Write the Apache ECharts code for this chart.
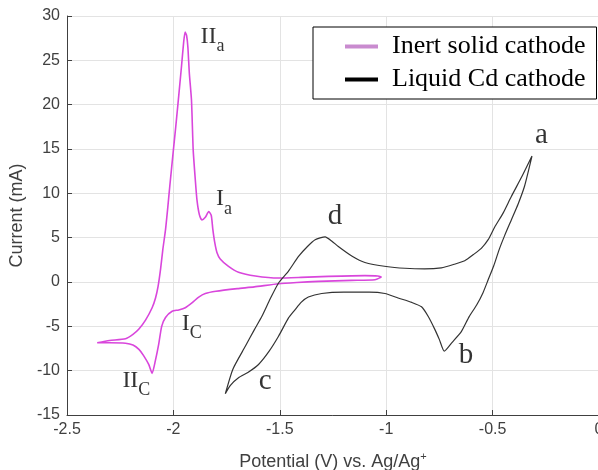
<!DOCTYPE html>
<html>
<head>
<meta charset="utf-8">
<script src="https://cdn.jsdelivr.net/npm/echarts@6/dist/echarts.min.js"></script>
<style>
  html, body { margin: 0; padding: 0; background: #fff; }
  #chart { width: 598px; height: 470px; }
</style>
</head>
<body>
<div id="chart"></div>
<script>
// inert solid cathode, one full cycle starting at the switching tip near -1 V
const inertPotential = [-1.022, -1.053, -1.163, -1.319, -1.42, -1.506, -1.62, -1.70, -1.80, -1.85, -1.881, -1.91, -1.944, -1.975, -2.006, -2.037, -2.055, -2.069, -2.085, -2.10, -2.116, -2.14, -2.162, -2.19, -2.225, -2.30, -2.358,
  -2.30, -2.225, -2.19, -2.162, -2.131, -2.10, -2.084, -2.072, -2.06, -2.05, -2.037, -2.026, -2.017, -2.0, -1.989, -1.975, -1.962, -1.952, -1.945, -1.938, -1.932, -1.925, -1.915, -1.907, -1.897, -1.889, -1.878, -1.866, -1.85, -1.834, -1.822, -1.815, -1.806, -1.795, -1.78, -1.741, -1.694, -1.615, -1.506, -1.40, -1.272, -1.10, -1.04, -1.022]
const inertCurrent = [0.55, 0.26, 0.18, 0.07, -0.05, -0.19, -0.55, -0.75, -1.05, -1.3, -1.7, -2.3, -2.9, -3.15, -3.3, -4.0, -5.0, -7.0, -8.9, -10.3, -9.3, -8.3, -7.6, -7.1, -6.9, -6.85, -6.85,
  -6.6, -6.4, -5.9, -5.3, -4.3, -2.9, -1.8, -0.5, 1.5, 3.6, 5.9, 8.5, 10.8, 14.9, 17.5, 21.0, 24.3, 27.0, 28.2, 27.8, 26.5, 23.5, 20.5, 14.9, 11.5, 9.2, 7.6, 7.0, 7.3, 7.95, 7.5, 6.0, 4.5, 3.3, 2.6, 1.76, 1.1, 0.68, 0.45, 0.52, 0.63, 0.72, 0.68, 0.55]

// liquid Cd cathode, starting at point a
const cdPotential = [-0.315, -0.35, -0.38, -0.412, -0.444, -0.47, -0.495, -0.52, -0.545, -0.575, -0.61, -0.647, -0.69, -0.727, -0.75, -0.771, -0.803, -0.834, -0.88, -0.944, -1.006, -1.08, -1.2, -1.303, -1.366, -1.40, -1.428, -1.459, -1.506, -1.55, -1.6, -1.65, -1.694, -1.73, -1.756,
  -1.72, -1.662, -1.62, -1.584, -1.545, -1.506, -1.46, -1.412, -1.37, -1.334, -1.287, -1.255, -1.225, -1.16, -1.1, -1.0, -0.912, -0.82, -0.741, -0.68, -0.631, -0.59, -0.553, -0.52, -0.49, -0.45, -0.412, -0.36, -0.315]
const cdCurrent = [14.2, 10.8, 8.8, 7.0, 5.2, 3.6, 1.8, 0.3, -1.2, -2.6, -3.9, -5.6, -6.8, -7.8, -6.5, -5.37, -3.87, -2.8, -2.3, -1.8, -1.3, -1.15, -1.15, -1.3, -1.7, -2.3, -3.12, -4.05, -6.12, -7.8, -9.3, -10.2, -10.8, -11.6, -12.6,
  -9.8, -7.25, -5.4, -3.87, -1.9, -0.11, 1.2, 2.88, 4.0, 4.76, 5.1, 4.6, 4.0, 2.9, 2.2, 1.75, 1.55, 1.48, 1.6, 2.0, 2.4, 3.1, 3.8, 4.8, 6.2, 7.8, 9.64, 12.0, 14.2]

// peak annotations
const noteMain = ['II', 'I', 'I', 'II', 'a', 'b', 'c', 'd']
const noteSub = ['a', 'a', 'C', 'C', '', '', '', '']
const notePotential = [-1.816, -1.762, -1.914, -2.174, -0.271, -0.625, -1.569, -1.241]
const noteCurrent = [27.7, 9.36, -4.7, -11.1, 16.5, -8.3, -11.2, 7.35]

const seriesNames = ['Inert solid cathode', 'Liquid Cd cathode']

const zip = (xs, ys) => xs.map((x, i) => [x, ys[i]])

const notes = noteMain.map((m, i) => ({
  value: [notePotential[i], noteCurrent[i]],
  label: {
    formatter: noteSub[i] ? '{m|' + m + '}{s|' + noteSub[i] + '}' : '{b|' + m + '}'
  }
}))

const serif = 'Liberation Serif'
const sans = 'Liberation Sans'

const chart = echarts.init(document.getElementById('chart'))
chart.setOption({
  animation: false,
  backgroundColor: '#fff',
  grid: { left: 67, right: -1, top: 16, bottom: 55, outerBoundsMode: 'none', containLabel: false },
  legend: {
    data: [
      { name: seriesNames[0], itemStyle: { color: '#c98bcf' } },
      { name: seriesNames[1], itemStyle: { color: '#000' } }
    ],
    orient: 'vertical',
    left: 313,
    top: 27,
    padding: [4, 11, 4, 32],
    itemGap: 2,
    itemWidth: 33,
    itemHeight: 4,
    icon: 'rect',
    borderColor: '#000',
    borderWidth: 1,
    backgroundColor: '#fff',
    textStyle: { fontFamily: serif, fontSize: 26, color: '#000', lineHeight: 31, padding: [0, 0, 0, 9] }
  },
  xAxis: {
    type: 'value',
    min: -2.5,
    max: 0,
    interval: 0.5,
    name: '{t|Potential (V) vs. Ag/Ag}{sup|+}',
    nameLocation: 'middle',
    nameGap: 36,
    nameTextStyle: {
      rich: {
        t: { fontFamily: sans, fontSize: 18, color: '#404040' },
        sup: { fontFamily: sans, fontSize: 11, color: '#404040', padding: [0, 0, 12, 0] }
      }
    },
    axisLine: { show: true, onZero: false, lineStyle: { color: '#404040', width: 1 } },
    axisTick: { show: true, inside: true, length: 5, lineStyle: { color: '#404040' } },
    axisLabel: { fontFamily: sans, fontSize: 16, color: '#404040', margin: 7 },
    splitLine: { show: true, lineStyle: { color: '#e3e3e3', width: 1 } }
  },
  yAxis: {
    type: 'value',
    min: -15,
    max: 30,
    interval: 5,
    name: 'Current (mA)',
    nameLocation: 'middle',
    nameGap: 38,
    nameTextStyle: { fontFamily: sans, fontSize: 18, color: '#404040' },
    axisLine: { show: true, onZero: false, lineStyle: { color: '#404040', width: 1 } },
    axisTick: { show: true, inside: true, length: 5, lineStyle: { color: '#404040' } },
    axisLabel: { fontFamily: sans, fontSize: 16, color: '#404040', margin: 7 },
    splitLine: { show: true, lineStyle: { color: '#e3e3e3', width: 1 } }
  },
  series: [
    {
      name: seriesNames[0],
      type: 'line',
      data: zip(inertPotential, inertCurrent),
      showSymbol: false,
      smooth: 0.2,
      lineStyle: { color: '#d946dc', width: 1.6 },
      itemStyle: { color: '#d946dc' }
    },
    {
      name: seriesNames[1],
      type: 'line',
      data: zip(cdPotential, cdCurrent),
      showSymbol: false,
      smooth: 0.2,
      lineStyle: { color: '#333', width: 1.2 },
      itemStyle: { color: '#333' }
    },
    {
      name: 'notes',
      type: 'scatter',
      data: notes,
      symbolSize: 0,
      silent: true,
      label: {
        show: true,
        position: 'inside',
        color: '#000',
        rich: {
          m: { fontFamily: serif, fontSize: 24, color: '#000' },
          s: { fontFamily: serif, fontSize: 18, color: '#000', padding: [20, 0, 0, 0] },
          b: { fontFamily: serif, fontSize: 29, color: '#000' }
        }
      }
    }
  ]
})
</script>
</body>
</html>
